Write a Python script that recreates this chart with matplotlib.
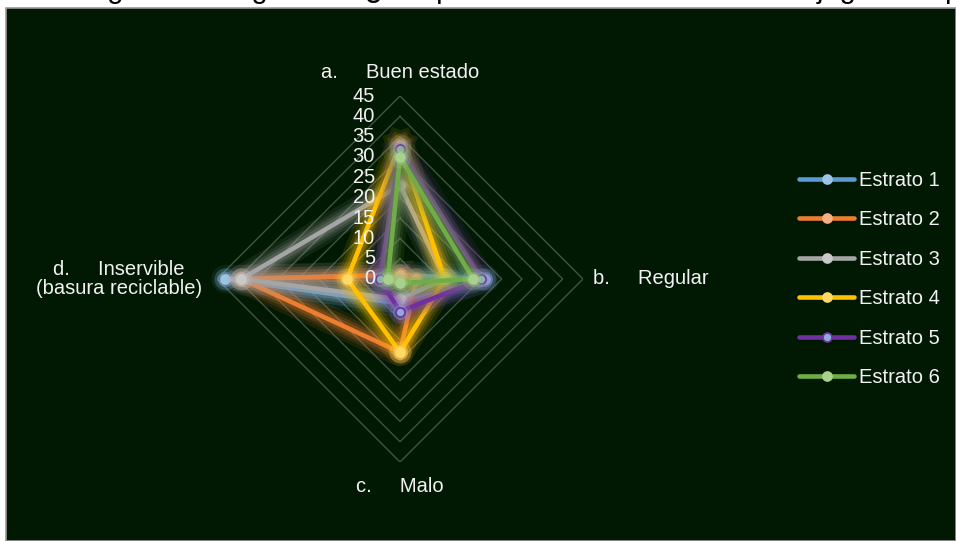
import numpy as np
import matplotlib
matplotlib.use("Agg")
import matplotlib.pyplot as plt
import matplotlib.patheffects as pe
from matplotlib.lines import Line2D
from matplotlib.patches import Rectangle

plt.rcParams['font.family'] = ['Liberation Sans', 'DejaVu Sans']

# ---------------- data ----------------
title = "Figura 6. Pregunta 6. ¿En qué estado se encuentran los juguetes que posee?"
categories = ["a.     Buen estado", "b.     Regular", "c.     Malo",
              "d.     Inservible\n(basura reciclable)"]
series_names = ["Estrato 1", "Estrato 2", "Estrato 3", "Estrato 4", "Estrato 5", "Estrato 6"]
estrato1 = [1, 21, 6, 43]
estrato2 = [1, 4, 18, 39]
estrato3 = [23, 11, 5, 39]
estrato4 = [33, 11, 18, 13]
estrato5 = [32, 20, 8, 5]
estrato6 = [30, 18, 1, 3]
r_ticks = [0, 5, 10, 15, 20, 25, 30, 35, 40, 45]

series_values = [estrato1, estrato2, estrato3, estrato4, estrato5, estrato6]
line_colors = ["#5B9BD5", "#ED7D31", "#A5A5A5", "#FFC000", "#7030A0", "#70AD47"]
marker_colors = ["#9DC3E6", "#F4B183", "#C9C9C9", "#FFD966", "#8FAADC", "#A9D18E"]
marker_edges = ["#9DC3E6", "#F4B183", "#C9C9C9", "#FFD966", "#7030A0", "#A9D18E"]

W, H = 956, 541
fig = plt.figure(figsize=(W / 100, H / 100), dpi=100)
fig.patch.set_facecolor("white")

bg = "#011903"
fig.patches.append(Rectangle((6 / W, 0), (W - 6) / W, (H - 8) / H, transform=fig.transFigure,
                             facecolor=bg, edgecolor="#9a9a9a", lw=1.2, zorder=-10))

fig.text(83 / W, 1 + 2 / H, title, fontsize=21, color="black", ha="left", va="baseline")

cx, cy, R = 400, 279, 183
ax = fig.add_axes([(cx - R) / W, (H - cy - R) / H, 2 * R / W, 2 * R / H], projection="polar")
ax.set_theta_offset(np.pi / 2)
ax.set_theta_direction(-1)
ax.set_ylim(0, 45)
ax.patch.set_alpha(0)
ax.spines["polar"].set_visible(False)
ax.grid(False)
ax.set_xticks([])
ax.set_yticks([])

angles = np.arange(len(categories)) * 2 * np.pi / len(categories)
ang_closed = np.append(angles, angles[0])

# diamond grid
for r in r_ticks[1:]:
    ax.plot(ang_closed, [r] * len(ang_closed), color="#3f5440", lw=1.0, zorder=1)

txtc = "#f2f2f2"
for r in r_ticks:
    ax.annotate(str(r), xy=(0, r), xytext=(-25, 0), textcoords="offset pixels",
                ha="right", va="center", fontsize=14.5, color=txtc, zorder=10)

# category labels
ax.annotate(categories[0], xy=(0, 45), xytext=(0, 23), textcoords="offset pixels",
            ha="center", va="center", fontsize=14.5, color=txtc)
ax.annotate(categories[1], xy=(angles[1], 45), xytext=(10, 0), textcoords="offset pixels",
            ha="left", va="center", fontsize=14.5, color=txtc)
ax.annotate(categories[2], xy=(angles[2], 45), xytext=(0, -25), textcoords="offset pixels",
            ha="center", va="center", fontsize=14.5, color=txtc)
ax.annotate(categories[3], xy=(angles[3], 45), xytext=(-15, 0), textcoords="offset pixels",
            ha="right", va="center", multialignment="center", fontsize=14.5, color=txtc,
            linespacing=1.05)

glow = [(20, 0.10), (15, 0.13), (11, 0.17), (7.5, 0.22)]
handles = []
for i, (vals, lc, mc, me) in enumerate(zip(series_values, line_colors, marker_colors, marker_edges)):
    v = np.append(vals, vals[0])
    ln, = ax.plot(ang_closed, v, color=lc, lw=3.3, zorder=3 + i,
                  solid_joinstyle="round", clip_on=False)
    ln.set_path_effects([pe.Stroke(linewidth=w, foreground=lc, alpha=a) for w, a in glow]
                        + [pe.Normal()])
    for ms, a in [(16, 0.18), (11, 0.3)]:
        ax.plot(ang_closed[:-1], vals, ls="none", marker="o", ms=ms, alpha=a,
                markerfacecolor=mc, markeredgecolor="none", zorder=3.4 + i, clip_on=False)
    ax.plot(ang_closed[:-1], vals, ls="none", marker="o", ms=6.5,
            markerfacecolor=mc, markeredgecolor=me, markeredgewidth=1.2,
            zorder=3.5 + i, clip_on=False)
    handles.append(Line2D([0], [0], color=lc, lw=3.3, marker="o", ms=6.5,
                          markerfacecolor=mc, markeredgecolor=me, markeredgewidth=1.2,
                          solid_capstyle="round"))

leg = fig.legend(handles, series_names, loc="center left",
                 bbox_to_anchor=(789 / W, 1 - 279 / H), frameon=False,
                 fontsize=14.5, handlelength=2.75, handletextpad=0.25,
                 labelspacing=1.02, borderpad=0, numpoints=1)
for t in leg.get_texts():
    t.set_color(txtc)

fig.savefig("out.png", dpi=100, facecolor=fig.get_facecolor())
